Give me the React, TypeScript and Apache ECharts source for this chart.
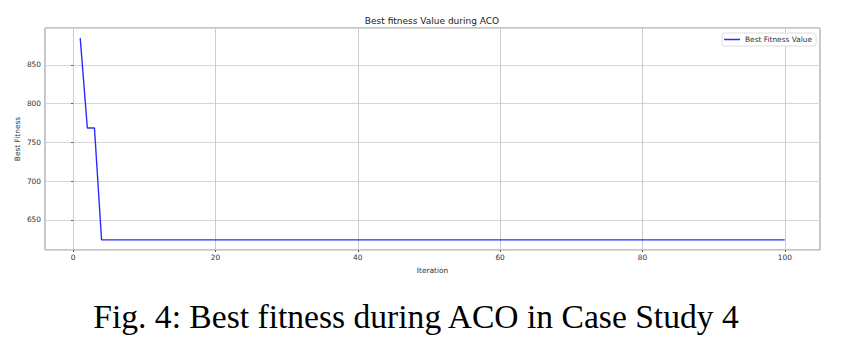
import React, { useEffect, useRef } from "react";
import * as echarts from "echarts";

const titleText = "Best fitness Value during ACO";
const captionText = "Fig. 4: Best fitness during ACO in Case Study 4";
const seriesName = "Best Fitness Value";
const xName = "Iteration";
const yName = "Best Fitness";

// Best fitness per iteration (iterations 1..100)
const bestFitness: number[] = [
  884.5, 768.5, 768.5, 624.2, 624.2, 624.2, 624.2, 624.2, 624.2, 624.2,
  624.2, 624.2, 624.2, 624.2, 624.2, 624.2, 624.2, 624.2, 624.2, 624.2,
  624.2, 624.2, 624.2, 624.2, 624.2, 624.2, 624.2, 624.2, 624.2, 624.2,
  624.2, 624.2, 624.2, 624.2, 624.2, 624.2, 624.2, 624.2, 624.2, 624.2,
  624.2, 624.2, 624.2, 624.2, 624.2, 624.2, 624.2, 624.2, 624.2, 624.2,
  624.2, 624.2, 624.2, 624.2, 624.2, 624.2, 624.2, 624.2, 624.2, 624.2,
  624.2, 624.2, 624.2, 624.2, 624.2, 624.2, 624.2, 624.2, 624.2, 624.2,
  624.2, 624.2, 624.2, 624.2, 624.2, 624.2, 624.2, 624.2, 624.2, 624.2,
  624.2, 624.2, 624.2, 624.2, 624.2, 624.2, 624.2, 624.2, 624.2, 624.2,
  624.2, 624.2, 624.2, 624.2, 624.2, 624.2, 624.2, 624.2, 624.2, 624.2,
];

const xMin = -3.95;
const xMax = 104.95;
const yMin = 611.2;
const yMax = 897.5;

export default function App() {
  const ref = useRef<HTMLDivElement>(null);

  useEffect(() => {
    document.body.style.margin = "0";
    if (!ref.current) return;
    const chart = echarts.init(ref.current, undefined, { renderer: "svg" });
    const font = "DejaVu Sans";
    const data = bestFitness.map((v, i) => [i + 1, v]);
    chart.setOption({
      animation: false,
      backgroundColor: "#ffffff",
      textStyle: { fontFamily: font },
      grid: {
        left: 45,
        top: 28,
        right: 34,
        bottom: 112,
        show: true,
        borderColor: "#8a8a8a",
        borderWidth: 1,
        containLabel: false,
      },
      legend: {
        right: 38,
        top: 33,
        orient: "vertical",
        data: [{ name: seriesName, icon: "rect" }],
        itemWidth: 16,
        itemHeight: 1.5,
        padding: [3, 4, 3, 2],
        borderColor: "#dddddd",
        borderWidth: 1,
        borderRadius: 2,
        backgroundColor: "#ffffff",
        textStyle: { fontFamily: font, fontSize: 7.4, color: "#333333" },
      },
      xAxis: {
        type: "value",
        min: xMin,
        max: xMax,
        splitNumber: 5,
        name: xName,
        nameLocation: "middle",
        nameGap: 17,
        nameMoveOverlap: false,
        nameTextStyle: { fontFamily: font, fontSize: 7.4, color: "#333333" },
        axisLine: { show: false },
        axisTick: { show: true, length: 2, lineStyle: { color: "#555555" } },
        axisLabel: {
          showMinLabel: false,
          showMaxLabel: false,
          margin: 4,
          fontFamily: font,
          fontSize: 7.4,
          color: "#333333",
        },
        splitLine: { show: true, lineStyle: { color: "#cccccc", width: 1 } },
      },
      yAxis: {
        type: "value",
        min: yMin,
        max: yMax,
        splitNumber: 5,
        name: yName,
        nameLocation: "middle",
        nameRotate: 90,
        nameGap: 24,
        nameMoveOverlap: false,
        nameTextStyle: { fontFamily: font, fontSize: 7.4, color: "#333333" },
        axisLine: { show: false },
        axisTick: { show: true, length: 2, lineStyle: { color: "#555555" } },
        axisLabel: {
          showMinLabel: false,
          showMaxLabel: false,
          margin: 4,
          fontFamily: font,
          fontSize: 7.4,
          color: "#333333",
        },
        splitLine: { show: true, lineStyle: { color: "#d6d6d6", width: 1.2 } },
      },
      series: [
        {
          name: seriesName,
          type: "line",
          data,
          showSymbol: false,
          symbol: "none",
          lineStyle: { color: "#2a2aff", width: 1.4 },
          itemStyle: { color: "#2a2aff" },
        },
      ],
      graphic: [
        {
          type: "text",
          x: 432,
          y: 21,
          style: {
            text: titleText,
            fontFamily: font,
            fontSize: 9,
            fill: "#222222",
            textAlign: "center",
            textVerticalAlign: "middle",
          },
        },
        {
          type: "text",
          x: 416,
          y: 316,
          style: {
            text: captionText,
            fontFamily: "Liberation Serif",
            fontSize: 33.6,
            fill: "#000000",
            textAlign: "center",
            textVerticalAlign: "middle",
          },
        },
      ],
    });
    return () => chart.dispose();
  }, []);

  return (
    <div
      ref={ref}
      style={{ position: "absolute", left: 0, top: 0, width: 854, height: 362 }}
    />
  );
}
